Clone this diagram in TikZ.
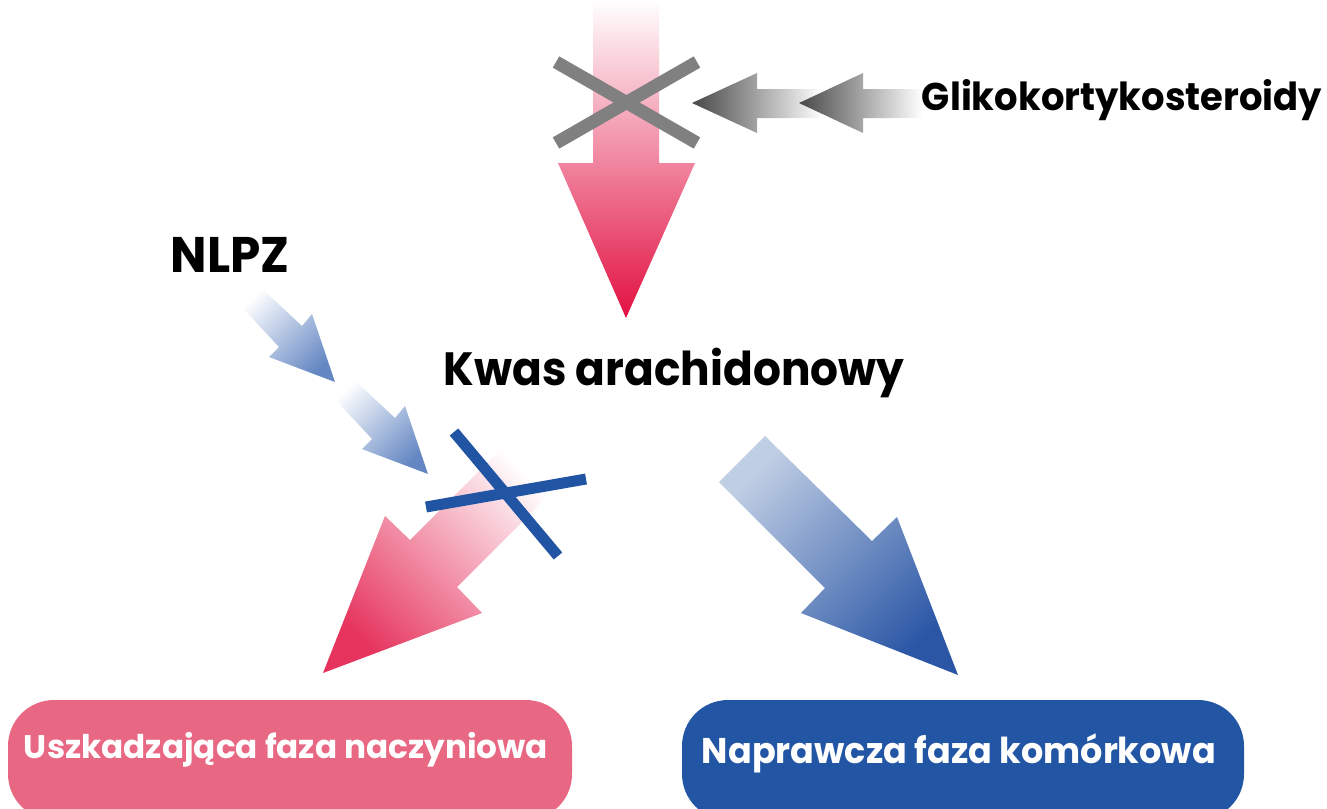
\documentclass[tikz,border=0pt]{standalone}
\usepackage{fontspec}
\usepackage{graphicx}
\setmainfont{Poppins}

\definecolor{crimsonTip}{RGB}{226,16,66}
\definecolor{crimsonSoft}{RGB}{230,52,94}
\definecolor{pinkMid}{RGB}{240,150,172}
\definecolor{pinkLight}{RGB}{243,175,193}
\definecolor{crossGray}{RGB}{128,128,128}
\definecolor{grayDark}{RGB}{72,72,72}
\definecolor{nlpzBlue}{RGB}{100,135,195}
\definecolor{crossBlue}{RGB}{34,84,164}
\definecolor{blueLight}{RGB}{192,206,228}
\definecolor{blueTip}{RGB}{42,86,165}
\definecolor{pinkBox}{RGB}{232,103,130}
\definecolor{blueBox}{RGB}{34,85,164}

\tikzset{every picture/.style={line width=0.75pt}}

\begin{document}
\begin{tikzpicture}[x=0.75pt,y=0.75pt,yscale=-1,xscale=1]
\useasboundingbox (0,0) rectangle (1327,808);

%Shape: Top Arrow [pink]
\shade [top color=white, middle color=pinkMid, bottom color=crimsonTip] (593,0) -- (659,0) -- (659,163) -- (695,163) -- (626,318) -- (558,163) -- (593,163) -- cycle ;
%Straight Lines [gray cross]
\draw [color=crossGray, line width=9.75]  (556,62) -- (697,143) ;
\draw [color=crossGray, line width=9.75]  (556,143) -- (697,62) ;
%Shape: Gray Arrows
\shade [left color=grayDark, right color=white] (692,103) -- (757,73) -- (757,89) -- (822,89) -- (822,118) -- (757,118) -- (757,133) -- cycle ;
\shade [left color=grayDark, right color=white] (799,103) -- (863,73) -- (863,89) -- (922,89) -- (922,118) -- (863,118) -- (863,133) -- cycle ;

%Shape: NLPZ Arrows
\shade [top color=white, bottom color=nlpzBlue, shading angle=45] (256,283) -- (302,326) -- (312,314) -- (335,382) -- (269,357) -- (279,347) -- (237,302) -- cycle ;
\shade [top color=white, bottom color=nlpzBlue, shading angle=45] (349,375) -- (395,418) -- (405,406) -- (428,474) -- (362,449) -- (372,439) -- (330,394) -- cycle ;

%Shape: Left Arrow [pink]
\shade [top color=white, middle color=pinkLight, bottom color=crimsonSoft, shading angle=-45] (513,437) -- (560,484) -- (457,587) -- (482,613) -- (323,673) -- (385,516) -- (410,540) -- cycle ;
%Straight Lines [blue cross]
\draw [color=crossBlue, line width=8.25]  (454,432) -- (558,556) ;
\draw [color=crossBlue, line width=8.25]  (426,507) -- (586,479) ;

%Shape: Right Arrow [blue]
\shade [top color=blueLight, bottom color=blueTip, shading angle=45] (765,436) -- (872,541) -- (897,517) -- (958,675) -- (801,613) -- (825,588) -- (719,482) -- cycle ;

%Rounded Rect [pink box]
\draw [draw=none, fill=pinkBox, rounded corners=34.5pt] (8,700) rectangle (572,820) ;
%Rounded Rect [blue box]
\draw [draw=none, fill=blueBox, rounded corners=34.5pt] (682,700) rectangle (1244,820) ;

% Text Node
\node (glk) [anchor=base, inner sep=0.75pt] at (1122,110) {\fontsize{29}{34}\selectfont\bfseries\scalebox{0.955}[1]{Glikokortykosteroidy}};
% Text Node
\node (nlpz) [anchor=base, inner sep=0.75pt] at (230,272) {\fontsize{37.5}{42}\selectfont\bfseries\scalebox{0.97}[1]{NLPZ}};
% Text Node
\node (kwas) [anchor=base, inner sep=0.75pt] at (674,385) {\fontsize{35}{40}\selectfont\bfseries\scalebox{0.94}[1]{Kwas arachidonowy}};
% Text Node
\node (usz) [anchor=base, inner sep=0.75pt, text=white] at (286,758) {\fontsize{24.5}{29}\selectfont\bfseries Uszkadzająca faza naczyniowa};
% Text Node
\node (napr) [anchor=base, inner sep=0.75pt, text=white] at (959,763) {\fontsize{26.8}{31}\selectfont\bfseries\scalebox{0.98}[1]{Naprawcza faza komórkowa}};

\end{tikzpicture}
\end{document}
